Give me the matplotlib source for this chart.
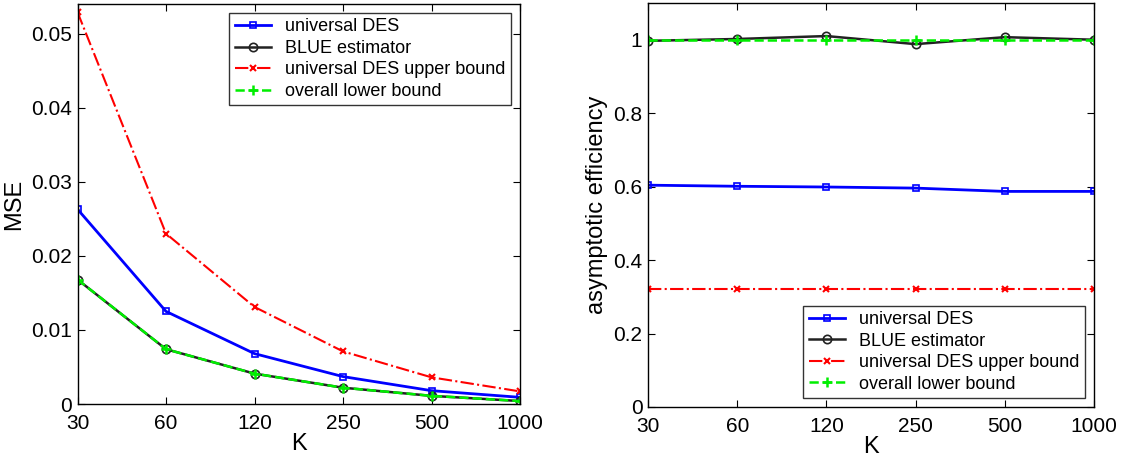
import numpy as np
import matplotlib
matplotlib.use("Agg")
import matplotlib.pyplot as plt

plt.rcParams["font.family"] = ["Liberation Sans", "DejaVu Sans"]
tick_size, label_size, legend_size = 15, 17, 13

k_labels = ["30", "60", "120", "250", "500", "1000"]

mse_des = [0.0263, 0.0125, 0.0068, 0.0037, 0.0018, 0.0009]
mse_blue = [0.0168, 0.0074, 0.0041, 0.0022, 0.0011, 0.0004]
mse_upper = [0.0529, 0.0230, 0.0131, 0.0071, 0.0036, 0.0017]
mse_lower = [0.0168, 0.0074, 0.0041, 0.0022, 0.0011, 0.0004]

eff_des = [0.604, 0.601, 0.599, 0.596, 0.587, 0.587]
eff_blue = [0.997, 1.002, 1.010, 0.988, 1.007, 1.000]
eff_upper = [0.322, 0.322, 0.322, 0.322, 0.322, 0.322]
eff_lower = [1.000, 1.000, 1.000, 1.000, 1.000, 1.000]

labels = ["universal DES", "BLUE estimator",
          "universal DES upper bound", "overall lower bound"]


def draw(ax, des, blue, upper, lower):
    x = np.arange(len(k_labels))
    ax.plot(x, des, "-", color="blue", marker="s", ms=5, mfc="none",
            mew=1.2, lw=2.0, label=labels[0])
    ax.plot(x, blue, "-", color="#222222", marker="o", ms=6, mfc="none",
            mew=1.2, lw=1.8, label=labels[1])
    ax.plot(x, upper, "-.", color="red", marker="x", ms=5, mew=1.5,
            lw=1.5, label=labels[2])
    ax.plot(x, lower, "--", color="#00ee00", marker="+", ms=7, mew=1.8,
            lw=1.8, label=labels[3])
    ax.set_xlim(0, len(k_labels) - 1)
    ax.set_xticks(x)
    ax.set_xticklabels(k_labels)
    ax.set_xlabel("K", fontsize=label_size, labelpad=0)
    ax.tick_params(direction="in", top=True, right=True, labelsize=tick_size,
                   length=5)
    ax.tick_params(axis="x", pad=7)
    ax.tick_params(axis="y", pad=4)
    for s in ax.spines.values():
        s.set_linewidth(1.0)


def add_legend(ax, loc):
    leg = ax.legend(loc=loc, fontsize=legend_size, frameon=True,
                    fancybox=False, edgecolor="black", borderaxespad=0.5,
                    handlelength=2.0, handletextpad=0.8, labelspacing=0.25,
                    borderpad=0.3)
    leg.get_frame().set_linewidth(1.0)


fig = plt.figure(figsize=(11.24, 4.59), dpi=100)

ax1 = fig.add_axes([77.5 / 1124, 1 - 404 / 459, 442.5 / 1124, 400 / 459])
draw(ax1, mse_des, mse_blue, mse_upper, mse_lower)
ax1.set_ylim(0, 0.054)
ax1.set_yticks([0, 0.01, 0.02, 0.03, 0.04, 0.05])
ax1.set_yticklabels(["0", "0.01", "0.02", "0.03", "0.04", "0.05"])
ax1.set_ylabel("MSE", fontsize=label_size)
add_legend(ax1, "upper right")

ax2 = fig.add_axes([648 / 1124, 1 - 407 / 459, 446 / 1124, 404 / 459])
draw(ax2, eff_des, eff_blue, eff_upper, eff_lower)
ax2.set_ylim(0, 1.1)
ax2.set_yticks([0, 0.2, 0.4, 0.6, 0.8, 1.0])
ax2.set_yticklabels(["0", "0.2", "0.4", "0.6", "0.8", "1"])
ax2.set_ylabel("asymptotic efficiency", fontsize=label_size)
add_legend(ax2, "lower right")

fig.savefig("out.png", dpi=100)
